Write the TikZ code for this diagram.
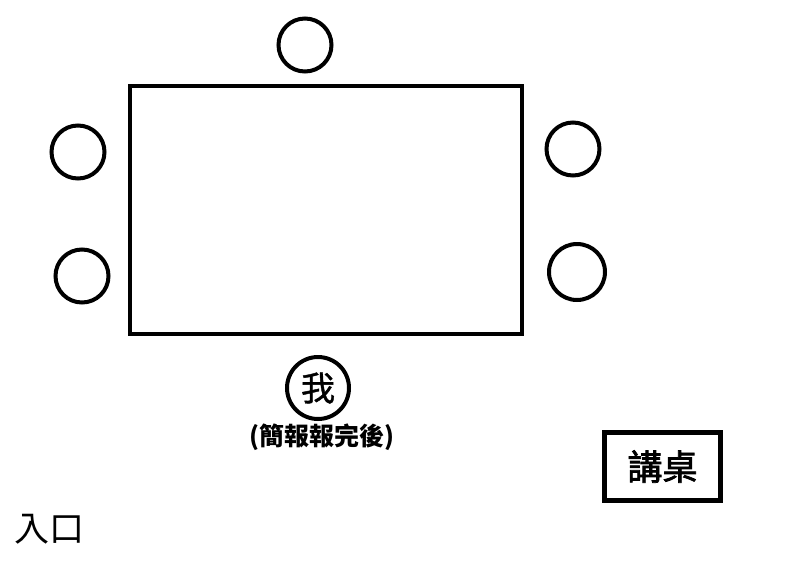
\documentclass[tikz,border=0pt]{standalone}
\usepackage{fontspec}
\newfontfamily\cjk{Noto Sans CJK TC}
\newfontfamily\cjkmed[FakeBold=1.2]{Noto Sans CJK TC}
\newfontfamily\cjkdesk[FakeBold=2.2]{Noto Sans CJK TC}
\begin{document}
\begin{tikzpicture}[x=1pt,y=-1pt,
  seat/.style={circle,draw,line width=4pt,minimum size=53pt,inner sep=0pt},
  tablebox/.style={draw,line width=4pt,inner sep=0pt},
  deskbox/.style={draw,line width=5pt,inner sep=0pt},
  txt/.style={inner sep=0pt}]
\fill[white] (0,0) rectangle (812,566);
\useasboundingbox (0,0) rectangle (812,566);
\node[tablebox,minimum width=392pt,minimum height=248pt] (table) at (325.5,209.5) {};
\node[seat] (s1) at (305,45) {};
\node[seat] (s2) at (78,152) {};
\node[seat] (s3) at (82,276) {};
\node[seat] (s4) at (573,149) {};
\node[seat,minimum size=56pt] (s5) at (577,272) {};
\node[seat,minimum size=62pt,font={\cjkmed\fontsize{34pt}{36pt}\selectfont}] (me) at (318,388) {我};
\node[txt,font={\cjk\bfseries\fontsize{25pt}{27pt}\selectfont}] (note) at (322,437) {(簡報報完後)};
\node[deskbox,minimum width=116pt,minimum height=68pt,font={\cjkdesk\fontsize{35pt}{37pt}\selectfont}] (desk) at (662.5,466.5) {講桌};
\node[txt,font={\cjk\fontsize{35pt}{37pt}\selectfont}] (door) at (49,529) {入口};
\end{tikzpicture}
\end{document}
